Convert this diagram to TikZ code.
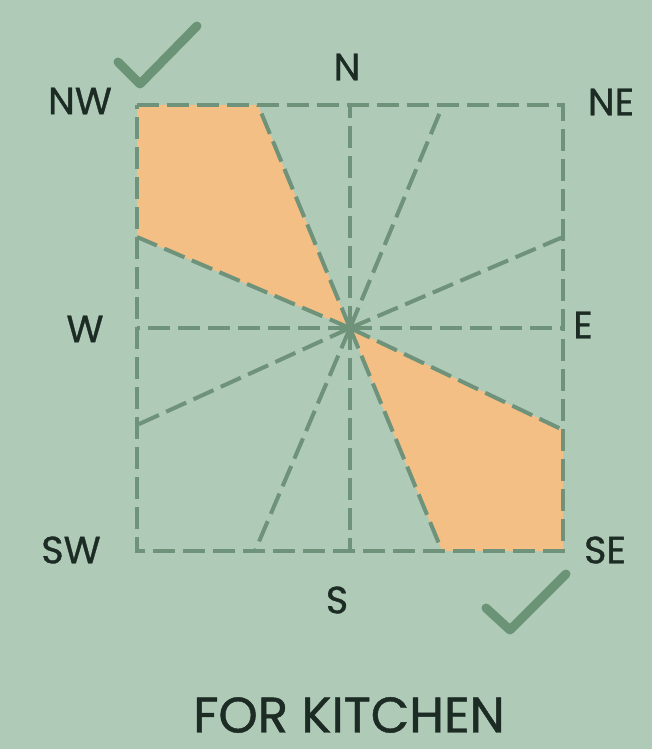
\documentclass[tikz,border=0pt]{standalone}
\usepackage{fontspec}
\setmainfont{Poppins}
\newfontfamily\labelfont{Poppins}[FakeBold=0.9]
\usepackage{tikz}
\usetikzlibrary{calc}
\definecolor{cBack}{HTML}{AFCBB8}
\definecolor{cLine}{HTML}{6F927B}
\definecolor{cZone}{HTML}{F3BF84}
\definecolor{cTick}{HTML}{6A9475}
\definecolor{cInk}{HTML}{1C2B23}
\tikzset{
  grid/.style  = {draw=cLine, line width=2pt, dash pattern=on 11pt off 4pt},
  zone/.style  = {fill=cZone},
  tick/.style  = {draw=cTick, line width=4.5pt, line cap=round, line join=round},
  dir/.style   = {text=cInk, font=\labelfont\fontsize{19}{19}\selectfont, inner sep=0pt},
  title/.style = {text=cInk, font=\labelfont\fontsize{25}{25}\selectfont, inner sep=0pt},
}
\begin{document}
\begin{tikzpicture}[x=0.5pt, y=-0.5pt]
  \fill[cBack] (0,0) rectangle (652,749);
  \useasboundingbox (0,0) rectangle (652,749);
  % frame corners and centre
  \coordinate (O)  at (350,328);
  \coordinate (tl) at (137,105);
  \coordinate (tr) at (563,105);
  \coordinate (br) at (563,551);
  \coordinate (bl) at (137,551);
  % the two kitchen zones
  \fill[zone] (tl) -- (258,105) -- (O) -- (137,237) -- cycle;
  \fill[zone] (O) -- (563,430) -- (br) -- (442,551) -- cycle;
  % frame and rays
  \draw[grid] (tl) -- (tr) -- (br) -- (bl) -- cycle;
  \foreach \p in {(350,105),(350,551),(137,328),(563,328),
                  (443,105),(255,551),(563,237),(137,425),
                  (258,105),(442,551),(137,237),(563,430)}
    \draw[grid] (O) -- \p;
  % ticks
  \draw[tick] (118,62) -- (140,84) -- (197,26);
  \draw[tick] (486,608) -- (510,630) -- (566,574);
  % labels
  \node[dir] (N)  at (347,67)  {N};
  \node[dir] (NW) at (80,101)  {NW};
  \node[dir] (NE) at (611,102) {NE};
  \node[dir] (W)  at (85,329)  {W};
  \node[dir] (E)  at (583,325) {E};
  \node[dir] (SW) at (71,550)  {SW};
  \node[dir] (SE) at (605,550) {SE};
  \node[dir] (S)  at (337,600) {S};
  \node[title] (T) at (349,715) {FOR KITCHEN};
\end{tikzpicture}
\end{document}
